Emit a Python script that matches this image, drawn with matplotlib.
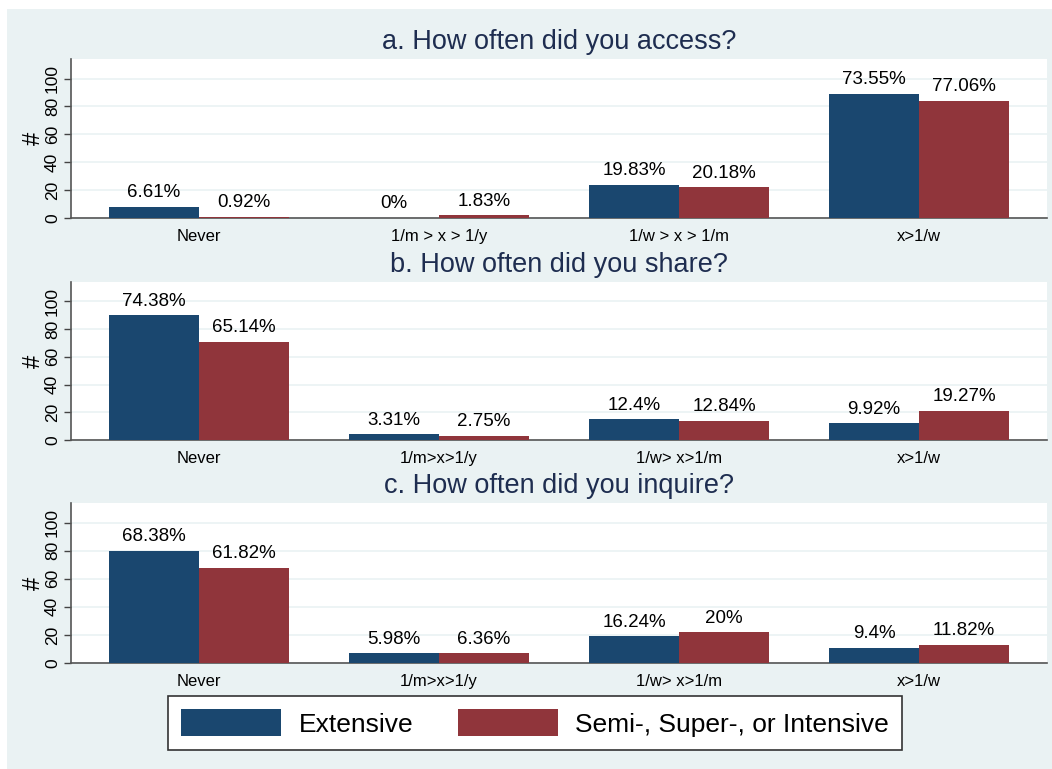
import matplotlib
matplotlib.use("Agg")
import matplotlib.pyplot as plt
from matplotlib.patches import Rectangle
import numpy as np

plt.rcParams['font.family'] = ['Liberation Sans', 'DejaVu Sans']

titles = ["a. How often did you access?", "b. How often did you share?", "c. How often did you inquire?"]
cats_a = ["Never", "1/m > x > 1/y", "1/w > x > 1/m", "x>1/w"]
cats_b = ["Never", "1/m>x>1/y", "1/w> x>1/m", "x>1/w"]
cats_c = ["Never", "1/m>x>1/y", "1/w> x>1/m", "x>1/w"]
categories = [cats_a, cats_b, cats_c]

ext_counts_a = [8, 0, 24, 89]
sem_counts_a = [1, 2, 22, 84]
ext_pct_a = ["6.61%", "0%", "19.83%", "73.55%"]
sem_pct_a = ["0.92%", "1.83%", "20.18%", "77.06%"]

ext_counts_b = [90, 4, 15, 12]
sem_counts_b = [71, 3, 14, 21]
ext_pct_b = ["74.38%", "3.31%", "12.4%", "9.92%"]
sem_pct_b = ["65.14%", "2.75%", "12.84%", "19.27%"]

ext_counts_c = [80, 7, 19, 11]
sem_counts_c = [68, 7, 22, 13]
ext_pct_c = ["68.38%", "5.98%", "16.24%", "9.4%"]
sem_pct_c = ["61.82%", "6.36%", "20%", "11.82%"]

series_names = ["Extensive", "Semi-, Super-, or Intensive"]
ext_counts = [ext_counts_a, ext_counts_b, ext_counts_c]
sem_counts = [sem_counts_a, sem_counts_b, sem_counts_c]
ext_pcts = [ext_pct_a, ext_pct_b, ext_pct_c]
sem_pcts = [sem_pct_a, sem_pct_b, sem_pct_c]

W, H = 1052, 769
BG = "#EAF2F3"
BLUE = "#1A476F"
RED = "#90353B"
TITLE_C = "#1E2D50"

fig = plt.figure(figsize=(W / 100, H / 100), dpi=100, facecolor="white")
fig.patches.append(Rectangle((7 / W, 0), 1 - 7 / W, 1 - 9 / H, transform=fig.transFigure,
                             facecolor=BG, edgecolor="none", zorder=-10))

left, right = 71, 1047
panels = [(59, 218), (282, 440), (503, 663)]
bw = 0.375
handles = None
for i, (top, bot) in enumerate(panels):
    ax = fig.add_axes([left / W, 1 - bot / H, (right - left) / W, (bot - top) / H])
    ax.set_facecolor("white")
    x = np.arange(len(categories[i]))
    b1 = ax.bar(x - bw / 2, ext_counts[i], bw, color=BLUE, zorder=3)
    b2 = ax.bar(x + bw / 2, sem_counts[i], bw, color=RED, zorder=3)
    handles = (b1, b2)
    for rects, labs in ((b1, ext_pcts[i]), (b2, sem_pcts[i])):
        for r, lab in zip(rects, labs):
            ax.annotate(lab, (r.get_x() + r.get_width() / 2, r.get_height()),
                        xytext=(0, 4), textcoords="offset points",
                        ha="center", va="bottom", fontsize=13.5, color="black")
    ax.set_xlim(-0.533, 3.533)
    ax.set_ylim(0, 114)
    ax.set_yticks([0, 20, 40, 60, 80, 100])
    ax.tick_params(axis="y", labelrotation=90, labelsize=12.5, length=5, width=1,
                   color="#444444", pad=3)
    for lbl in ax.get_yticklabels():
        lbl.set_va("center")
    ax.set_xticks(x)
    ax.set_xticklabels(categories[i], fontsize=12)
    ax.tick_params(axis="x", length=0, pad=8)
    ax.yaxis.grid(True, color=BG, linewidth=1.2, zorder=0)
    ax.set_axisbelow(True)
    for s in ("top", "right"):
        ax.spines[s].set_visible(False)
    for s in ("left", "bottom"):
        ax.spines[s].set_color("#555555")
        ax.spines[s].set_linewidth(1.2)
    ax.set_ylabel("#", fontsize=17, labelpad=0)
    fig.text(0.5 * (left + right) / W, 1 - (top - 17) / H, titles[i],
             ha="center", va="center", fontsize=19.5, color=TITLE_C)

leg = fig.legend(handles, series_names, loc="center",
                 bbox_to_anchor=((162 + 908) / 2 / W, 1 - 723 / H),
                 ncol=2, fontsize=19, frameon=True, fancybox=False,
                 edgecolor="#333333", handlelength=3.8, handleheight=1.2,
                 columnspacing=1.7, handletextpad=0.65, borderpad=0.5,
                 framealpha=1.0)
leg.get_frame().set_linewidth(1.2)
leg.get_frame().set_facecolor("white")

fig.savefig("out.png", dpi=100, facecolor=fig.get_facecolor())
